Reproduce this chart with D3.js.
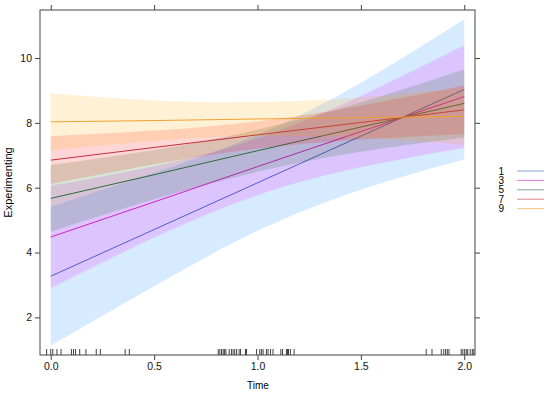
<!DOCTYPE html>
<html>
<head>
<meta charset="utf-8">
<script src="https://cdn.jsdelivr.net/npm/d3@7"></script>
<style>
  body { margin: 0; background: #fff; }
  text { font-family: "Liberation Sans", Arial, sans-serif; }
</style>
</head>
<body>
<div id="chart-area"></div>
<script>
// values
var groups = ["1", "3", "5", "7", "9"];
var timePts = [0, 0.5, 1, 1.5, 2];
var fit1 = [3.27, 4.71, 6.15, 7.59, 9.03];
var lo1  = [1.13, 2.96, 4.67, 5.94, 6.87];
var hi1  = [5.41, 6.46, 7.63, 9.24, 11.19];
var fit3 = [4.48, 5.56, 6.65, 7.73, 8.81];
var lo3  = [2.90, 4.46, 5.77, 6.63, 7.23];
var hi3  = [6.06, 6.66, 7.52, 8.83, 10.39];
var fit5 = [5.67, 6.40, 7.14, 7.87, 8.60];
var lo5  = [4.64, 5.64, 6.49, 7.11, 7.55];
var hi5  = [6.70, 7.16, 7.79, 8.63, 9.65];
var fit7 = [6.85, 7.24, 7.63, 8.01, 8.40];
var lo7  = [6.11, 6.72, 7.21, 7.49, 7.65];
var hi7  = [7.59, 7.76, 8.05, 8.53, 9.15];
var fit9 = [8.03, 8.07, 8.12, 8.16, 8.20];
var lo9  = [7.15, 7.45, 7.60, 7.54, 7.32];
var hi9  = [8.91, 8.69, 8.64, 8.78, 9.08];
var rugTimes = [-0.02, 0.0, 0.01, 0.03, 0.05, 0.10, 0.11, 0.12, 0.14, 0.17, 0.22, 0.24, 0.36, 0.38,
  0.81, 0.818, 0.826, 0.834, 0.84, 0.847, 0.863, 0.874, 0.882, 0.89, 0.899, 0.911, 0.918, 0.942, 0.947,
  0.995, 1.011, 1.019, 1.027, 1.043, 1.051, 1.063, 1.075, 1.113, 1.121, 1.14, 1.145, 1.15, 1.159, 1.177,
  1.816, 1.844, 1.889, 1.901, 1.91, 1.918, 1.926, 1.985, 1.993, 2.002, 2.01, 2.017, 2.029, 2.039, 2.046];
var xTicks = [0, 0.5, 1, 1.5, 2];
var yTicks = [2, 4, 6, 8, 10];
var colors = ["#2f6fc0", "#d020c8", "#2f6b3f", "#c0303c", "#f0a030"];
var bandColors = ["#0080ff", "#ff00ff", "#006400", "#ff0000", "#ffa500"];

var series = [
  {fit: fit1, lo: lo1, hi: hi1},
  {fit: fit3, lo: lo3, hi: hi3},
  {fit: fit5, lo: lo5, hi: hi5},
  {fit: fit7, lo: lo7, hi: hi7},
  {fit: fit9, lo: lo9, hi: hi9}
];

var L = 40, R = 475, T = 10, B = 355;

var svg = d3.select("#chart-area").append("svg")
    .attr("width", 550)
    .attr("height", 394);

var x = d3.scaleLinear().domain([-0.052, 2.052]).range([L, R]);
var y = d3.scaleLinear().domain([0.84, 11.48]).range([B, T]);

var area = d3.area()
    .x((d, i) => x(timePts[i]))
    .y0(d => y(d[0]))
    .y1(d => y(d[1]))
    .curve(d3.curveNatural);
var line = d3.line()
    .x((d, i) => x(timePts[i]))
    .y(d => y(d));

series.forEach((s, k) => {
  var pairs = s.lo.map((v, i) => [v, s.hi[i]]);
  svg.append("path")
      .attr("d", area(pairs))
      .attr("fill", bandColors[k])
      .attr("fill-opacity", 0.16);
  svg.append("path")
      .attr("d", line(s.fit))
      .attr("fill", "none")
      .attr("stroke", colors[k])
      .attr("stroke-width", 1);
});

// rug
svg.selectAll(".rug")
  .data(rugTimes)
  .enter().append("line")
    .attr("x1", d => x(d)).attr("x2", d => x(d))
    .attr("y1", B - 6).attr("y2", B)
    .attr("stroke", "#111")
    .attr("stroke-width", 0.8);

// frame
svg.append("rect")
    .attr("x", L).attr("y", T)
    .attr("width", R - L).attr("height", B - T)
    .attr("fill", "none")
    .attr("stroke", "#444");

var axisCol = "#444";
svg.append("g")
    .attr("transform", "translate(0," + B + ")")
    .call(d3.axisBottom(x).tickValues(xTicks).tickSize(5).tickPadding(3).tickFormat(d3.format(".1f")))
    .call(g => g.select(".domain").remove());
svg.append("g")
    .attr("transform", "translate(0," + T + ")")
    .call(d3.axisTop(x).tickValues(xTicks).tickSize(5).tickFormat(""))
    .call(g => g.select(".domain").remove());
svg.append("g")
    .attr("transform", "translate(" + L + ",0)")
    .call(d3.axisLeft(y).tickValues(yTicks).tickSize(5).tickPadding(3))
    .call(g => g.select(".domain").remove());
svg.append("g")
    .attr("transform", "translate(" + R + ",0)")
    .call(d3.axisRight(y).tickValues(yTicks).tickSize(5).tickFormat(""))
    .call(g => g.select(".domain").remove());

svg.selectAll(".tick line").attr("stroke", axisCol);
svg.selectAll(".tick text")
    .attr("font-size", 10.5)
    .attr("fill", "#111")
    .style("font-family", "'Liberation Sans', Arial, sans-serif");

svg.append("text")
    .attr("x", 258).attr("y", 389)
    .attr("text-anchor", "middle")
    .attr("font-size", 10)
    .text("Time");
svg.append("text")
    .attr("transform", "translate(12," + ((T + B) / 2) + ") rotate(-90)")
    .attr("text-anchor", "middle")
    .attr("font-size", 11)
    .text("Experimenting");

// legend
var leg = svg.append("g");
groups.forEach((g, i) => {
  var ly = 171 + i * 9.4;
  leg.append("text")
      .attr("x", 504).attr("y", ly + 3.5)
      .attr("text-anchor", "end")
      .attr("font-size", 10)
      .text(g);
  leg.append("line")
      .attr("x1", 517).attr("x2", 544)
      .attr("y1", ly).attr("y2", ly)
      .attr("stroke", colors[i])
      .attr("stroke-opacity", 0.6)
      .attr("stroke-width", 1);
});
</script>
</body>
</html>
